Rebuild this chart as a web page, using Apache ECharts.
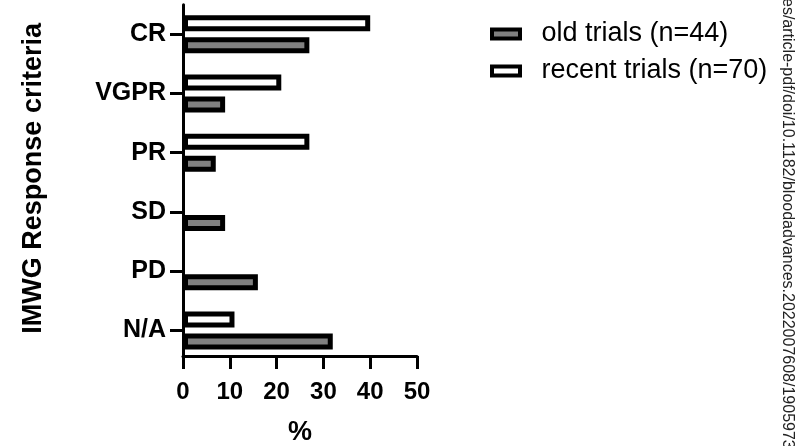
<!DOCTYPE html>
<html>
<head>
<meta charset="utf-8">
<style>
  html, body { margin: 0; padding: 0; background: #fff; }
  #chart { width: 797px; height: 446px; }
</style>
<script src="https://cdn.jsdelivr.net/npm/echarts@6/dist/echarts.min.js"></script>
</head>
<body>
<div id="chart"></div>
<script>
// IMWG response categories, bottom to top along the axis
const categories = ['N/A', 'PD', 'SD', 'PR', 'VGPR', 'CR'];
// Share of patients (%) per response category
const oldTrials = [32, 16, 9, 7, 9, 27];
const recentTrials = [11, 0, 0, 27, 21, 40];
const seriesNames = ['old trials (n=44)', 'recent trials (n=70)'];
const xTicks = { min: 0, max: 50, interval: 10 };

const FONT = '"Liberation Sans", Arial, Helvetica, sans-serif';

function barData(values) {
  // A zero bar would otherwise leave a stray border stub on the axis
  return values.map(v => v === 0 ? { value: 0, itemStyle: { borderWidth: 0 } } : v);
}

const chart = echarts.init(document.getElementById('chart'), null, { renderer: 'canvas' });

chart.setOption({
  animation: false,
  backgroundColor: '#ffffff',
  grid: { left: 183, right: 380, top: 4.7, bottom: 86, outerBoundsMode: 'none', containLabel: false },
  legend: {
    orient: 'vertical',
    left: 485,
    top: 15.5,
    itemWidth: 28,
    itemHeight: 9,
    itemGap: 10,
    icon: 'rect',
    data: seriesNames,
    itemStyle: { borderColor: '#000', borderWidth: 4 },
    textStyle: { fontFamily: FONT, fontSize: 27, color: '#000', padding: [0, 0, 0, 16.5] }
  },
  xAxis: {
    type: 'value',
    min: xTicks.min,
    max: xTicks.max,
    interval: xTicks.interval,
    offset: -4,
    name: '%',
    nameLocation: 'middle',
    nameGap: 63,
    nameTextStyle: { fontFamily: FONT, fontSize: 27, fontWeight: 'bold', color: '#000' },
    axisLine: { show: true, lineStyle: { color: '#000', width: 3 } },
    axisTick: { show: true, length: 13, lineStyle: { color: '#000', width: 3 } },
    axisLabel: { fontFamily: FONT, fontSize: 24, fontWeight: 'bold', color: '#000', margin: 24 },
    splitLine: { show: false }
  },
  yAxis: {
    type: 'category',
    data: categories,
    name: 'IMWG Response criteria',
    nameLocation: 'middle',
    nameGap: 136,
    nameTextStyle: { fontFamily: FONT, fontSize: 27, fontWeight: 'bold', color: '#000', padding: [0, 0, 0, 8] },
    axisLine: { show: true, lineStyle: { color: '#000', width: 3 } },
    axisTick: { show: true, alignWithLabel: true, length: 13, lineStyle: { color: '#000', width: 3 } },
    axisLabel: { fontFamily: FONT, fontSize: 25, fontWeight: 'bold', color: '#000', margin: 17 },
    splitLine: { show: false }
  },
  series: [
    {
      // listed first so it sits above the older-trials bar in each band
      name: seriesNames[1],
      type: 'bar',
      data: barData(recentTrials),
      barWidth: 16,
      barGap: '37.5%',
      itemStyle: { color: '#ffffff', borderColor: '#000', borderWidth: 5 }
    },
    {
      name: seriesNames[0],
      type: 'bar',
      data: barData(oldTrials),
      barWidth: 16,
      barGap: '37.5%',
      itemStyle: { color: '#808080', borderColor: '#000', borderWidth: 5 }
    }
  ],
  graphic: [
    {
      type: 'text',
      x: 779.5,
      y: -2,
      rotation: -Math.PI / 2,
      style: {
        text: 'es/article-pdf/doi/10.1182/bloodadvances.2022007608/1905973/bloodadvances.2022007608.pdf',
        fontFamily: FONT,
        fontSize: 16,
        fill: '#222',
        textAlign: 'left',
        textVerticalAlign: 'bottom'
      }
    }
  ]
});
</script>
</body>
</html>
